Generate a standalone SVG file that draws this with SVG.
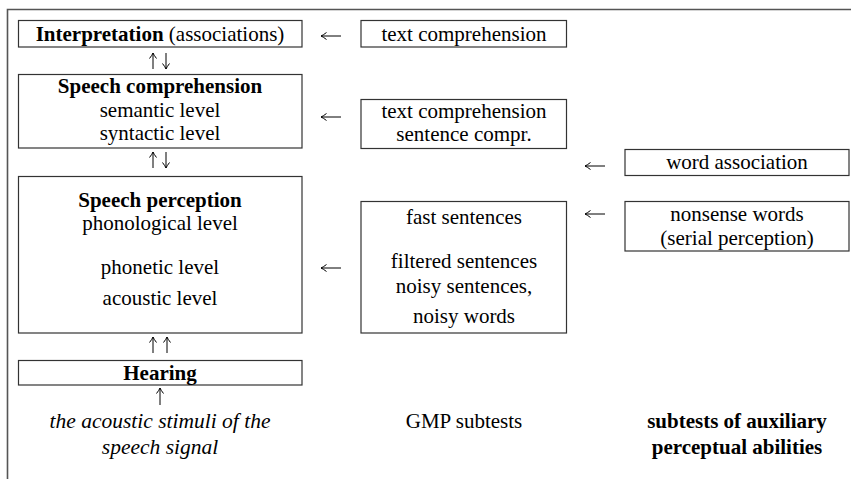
<svg xmlns="http://www.w3.org/2000/svg" width="851" height="479" viewBox="0 0 851 479">
<style>
  text { font-family: "Liberation Serif", "Times New Roman", serif; font-size: 21px; fill: #000; text-anchor: middle; }
  .b { font-weight: bold; }
  .i { font-style: italic; font-size: 21.5px; }
  .box { fill: #fff; stroke: #333; stroke-width: 1.2; }
  .frame { fill: none; stroke: #555; stroke-width: 1.6; }
  .arr { fill: none; stroke: #000; stroke-width: 1; marker-end: url(#head); }
</style>
<defs>
  <marker id="head" viewBox="-7 -5 8 10" markerWidth="8" markerHeight="10" refX="0" refY="0" orient="auto" markerUnits="userSpaceOnUse">
    <path d="M -5.5 -3.5 Q -2 -0.8 0 0 Q -2 0.8 -5.5 3.5" fill="none" stroke="#000" stroke-width="1"/>
  </marker>
</defs>
<rect width="851" height="479" fill="#fff"/>
<path class="frame" d="M 7.5 479 L 7.5 9.5 L 851 9.5"/>

<g id="interpretation">
  <rect class="box" x="18.5" y="20.5" width="283.5" height="26.5"/>
  <text x="160" y="40.5"><tspan class="b">Interpretation</tspan> (associations)</text>
</g>
<g id="speech-comprehension">
  <rect class="box" x="18.5" y="74.5" width="283.5" height="73.5"/>
  <text class="b" x="160" y="92.5">Speech comprehension</text>
  <text x="160" y="116.5">semantic level</text>
  <text x="160" y="139.5">syntactic level</text>
</g>
<g id="speech-perception">
  <rect class="box" x="18.5" y="176.5" width="283.5" height="156.5"/>
  <text class="b" x="160" y="206.5">Speech perception</text>
  <text x="160" y="229.5">phonological level</text>
  <text x="160" y="273.5">phonetic level</text>
  <text x="160" y="304.5">acoustic level</text>
</g>
<g id="hearing">
  <rect class="box" x="18.5" y="360.5" width="283.5" height="24.5"/>
  <text class="b" x="160" y="379.5">Hearing</text>
</g>
<g id="stimuli">
  <text class="i" x="160" y="427.5">the acoustic stimuli of the</text>
  <text class="i" x="160" y="454">speech signal</text>
</g>

<g id="gmp-text-comprehension">
  <rect class="box" x="361" y="20.5" width="205.5" height="26.5"/>
  <text x="464" y="40.5">text comprehension</text>
</g>
<g id="gmp-sentence">
  <rect class="box" x="361" y="99.5" width="205.5" height="49"/>
  <text x="464" y="117.5">text comprehension</text>
  <text x="464" y="140.5">sentence compr.</text>
</g>
<g id="gmp-perception">
  <rect class="box" x="361" y="201.5" width="205.5" height="131.5"/>
  <text x="464" y="223.5">fast sentences</text>
  <text x="464" y="267.5">filtered sentences</text>
  <text x="464" y="293">noisy sentences,</text>
  <text x="464" y="322.5">noisy words</text>
</g>
<g id="gmp-label">
  <text x="464" y="427.5">GMP subtests</text>
</g>

<g id="word-association">
  <rect class="box" x="625" y="149.5" width="224" height="26"/>
  <text x="737" y="169">word association</text>
</g>
<g id="nonsense-words">
  <rect class="box" x="625" y="201.5" width="224" height="49.5"/>
  <text x="737" y="220.5">nonsense words</text>
  <text x="737" y="244.5">(serial perception)</text>
</g>
<g id="auxiliary-label">
  <text class="b" x="737" y="427.5">subtests of auxiliary</text>
  <text class="b" x="737" y="454">perceptual abilities</text>
</g>

<g id="connectors">
  <path class="arr" d="M 341 36 L 321 36"/>
  <path class="arr" d="M 341 117 L 321 117"/>
  <path class="arr" d="M 341 268 L 321 268"/>
  <path class="arr" d="M 605 166 L 585 166"/>
  <path class="arr" d="M 605 214 L 585 214"/>
  <path class="arr" d="M 153 69 L 153 53"/>
  <path class="arr" d="M 166 53 L 166 69"/>
  <path class="arr" d="M 153 168 L 153 152"/>
  <path class="arr" d="M 166 152 L 166 168"/>
  <path class="arr" d="M 153 353 L 153 337"/>
  <path class="arr" d="M 167 353 L 167 337"/>
  <path class="arr" d="M 160 405 L 160 388"/>
</g>
</svg>
